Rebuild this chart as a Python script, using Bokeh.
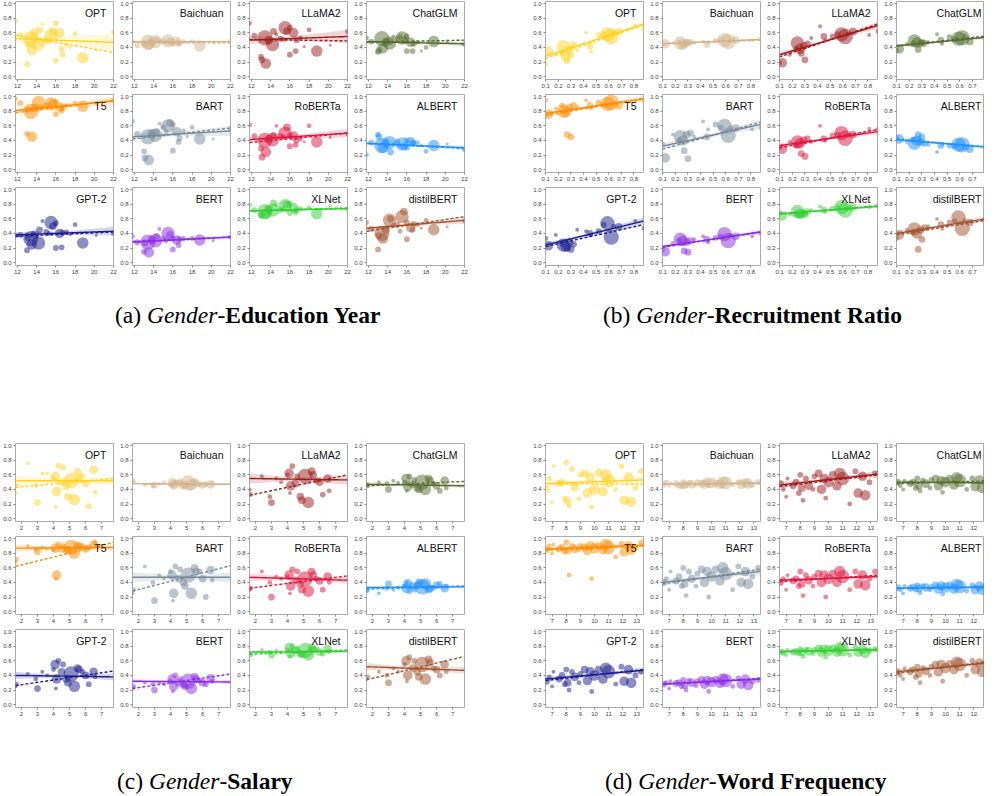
import numpy as np
from bokeh.plotting import figure
from bokeh.layouts import row, column
from bokeh.models import Div, Spacer, Range1d, FixedTicker, NumeralTickFormatter
from bokeh.embed import file_html
from bokeh.resources import INLINE
from bokeh.core.properties import value

MODELS = ["OPT", "Baichuan", "LLaMA2", "ChatGLM", "T5", "BART",
          "RoBERTa", "ALBERT", "GPT-2", "BERT", "XLNet", "distilBERT"]
COLORS = ["#FFD21F", "#D2B48C", "#9E1B1B", "#556B2F", "#FF8C00", "#778899",
          "#DC143C", "#1E90FF", "#1C1C8C", "#8A2BE2", "#32CD32", "#A0522D"]
Y_TICKS = [0.0, 0.2, 0.4, 0.6, 0.8, 1.0]

# ---------------- (a) Gender - Education Year ----------------
A_TICKS = [12, 14, 16, 18, 20, 22]
A_X = [11.8, 12.3, 13.0, 13.1, 13.4, 13.5, 13.8, 14.2, 14.3, 14.6, 15.0, 15.3, 15.5,
       15.7, 16.0, 16.0, 16.4, 16.6, 16.7, 17.1, 17.5, 18.0, 18.8, 20.2, 22.0]
A_W = [3, 4, 4, 5, 14, 9, 7, 12, 5, 2, 4, 3, 12, 6, 4, 4, 8, 4, 4, 3, 1, 3, 10, 1, 3]
A_OPT = [0.77, 0.57, 0.17, 0.44, 0.52, 0.36, 0.60, 0.45, 0.64, 0.72, 0.50, 0.48, 0.57,
         0.62, 0.73, 0.22, 0.60, 0.38, 0.30, 0.43, 0.40, 0.59, 0.26, 0.36, 0.61]
A_BAICHUAN = [0.49, 0.43, 0.46, 0.44, 0.47, 0.44, 0.47, 0.48, 0.50, 0.49, 0.48, 0.47, 0.49,
              0.48, 0.47, 0.45, 0.48, 0.47, 0.45, 0.48, 0.47, 0.48, 0.42, 0.47, 0.49]
A_LLAMA2 = [0.73, 0.56, 0.27, 0.23, 0.53, 0.18, 0.50, 0.44, 0.62, 0.58, 0.52, 0.51, 0.67,
            0.62, 0.67, 0.30, 0.60, 0.35, 0.50, 0.53, 0.41, 0.64, 0.35, 0.43, 0.62]
A_CHATGLM = [0.53, 0.48, 0.34, 0.36, 0.52, 0.39, 0.47, 0.46, 0.48, 0.55, 0.52, 0.55, 0.53,
             0.50, 0.55, 0.35, 0.47, 0.35, 0.45, 0.47, 0.35, 0.40, 0.48, 0.47, 0.44]
A_T5 = [0.97, 0.91, 0.49, 0.82, 0.80, 0.45, 0.85, 0.92, 0.85, 0.86, 0.88, 0.89, 0.90,
        0.92, 0.93, 0.76, 0.86, 0.81, 0.84, 0.88, 0.87, 0.91, 0.87, 0.90, 0.95]
A_BART = [0.66, 0.49, 0.25, 0.16, 0.45, 0.13, 0.50, 0.47, 0.52, 0.63, 0.58, 0.52, 0.60,
          0.64, 0.62, 0.26, 0.52, 0.38, 0.43, 0.53, 0.45, 0.58, 0.42, 0.42, 0.56]
A_ROBERTA = [0.61, 0.46, 0.29, 0.17, 0.40, 0.24, 0.42, 0.41, 0.47, 0.60, 0.46, 0.45, 0.50,
             0.58, 0.47, 0.32, 0.46, 0.34, 0.40, 0.42, 0.38, 0.60, 0.38, 0.44, 0.49]
A_ALBERT = [0.20, 0.37, 0.48, 0.45, 0.33, 0.30, 0.37, 0.37, 0.24, 0.35, 0.38, 0.33, 0.35,
            0.32, 0.40, 0.30, 0.38, 0.37, 0.36, 0.37, 0.33, 0.25, 0.33, 0.35, 0.27]
A_GPT2 = [0.37, 0.38, 0.17, 0.34, 0.33, 0.25, 0.38, 0.27, 0.45, 0.57, 0.42, 0.40, 0.55,
          0.50, 0.54, 0.20, 0.40, 0.21, 0.41, 0.42, 0.38, 0.52, 0.27, 0.37, 0.40]
A_BERT = [0.36, 0.28, 0.15, 0.27, 0.28, 0.14, 0.31, 0.30, 0.36, 0.46, 0.33, 0.30, 0.40,
          0.38, 0.33, 0.18, 0.31, 0.24, 0.32, 0.33, 0.32, 0.33, 0.31, 0.30, 0.35]
A_XLNET = [0.79, 0.72, 0.64, 0.66, 0.70, 0.67, 0.73, 0.72, 0.82, 0.79, 0.72, 0.74, 0.78,
           0.80, 0.81, 0.68, 0.75, 0.69, 0.72, 0.74, 0.73, 0.75, 0.67, 0.78, 0.73]
A_DISTIL = [0.55, 0.46, 0.18, 0.37, 0.40, 0.33, 0.45, 0.58, 0.60, 0.52, 0.52, 0.43, 0.63,
            0.70, 0.55, 0.32, 0.48, 0.45, 0.53, 0.52, 0.47, 0.58, 0.45, 0.49, 0.57]
A_SOLID_L = [0.52, 0.48, 0.50, 0.48, 0.81, 0.45, 0.41, 0.36, 0.38, 0.28, 0.71, 0.47]
A_SOLID_R = [0.47, 0.48, 0.55, 0.45, 0.94, 0.53, 0.50, 0.30, 0.43, 0.35, 0.74, 0.58]
A_DASH_L = [0.57, 0.47, 0.51, 0.47, 0.78, 0.42, 0.37, 0.36, 0.36, 0.29, 0.71, 0.43]
A_DASH_R = [0.33, 0.46, 0.49, 0.50, 0.95, 0.57, 0.50, 0.29, 0.42, 0.35, 0.75, 0.63]
A_BAND = [0.12, 0.02, 0.09, 0.03, 0.06, 0.07, 0.06, 0.03, 0.06, 0.03, 0.02, 0.05]

# ---------------- (b) Gender - Recruitment Ratio ----------------
B_TICKS = [0.1, 0.2, 0.3, 0.4, 0.5, 0.6, 0.7, 0.8]
B_X = [0.10, 0.12, 0.18, 0.23, 0.24, 0.26, 0.27, 0.29, 0.30, 0.32, 0.35,
       0.42, 0.45, 0.46, 0.52, 0.56, 0.59, 0.62, 0.64, 0.68, 0.81, 0.88]
B_W = [3, 8, 2, 4, 12, 9, 5, 6, 5, 5, 2, 2, 5, 2, 4, 4, 13, 14, 3, 6, 2, 3]
B_OPT = [0.17, 0.35, 0.30, 0.32, 0.41, 0.28, 0.22, 0.38, 0.30, 0.44, 0.36,
         0.60, 0.42, 0.34, 0.57, 0.58, 0.58, 0.55, 0.61, 0.62, 0.70, 0.65]
B_BAICHUAN = [0.45, 0.45, 0.46, 0.47, 0.46, 0.44, 0.44, 0.46, 0.47, 0.47, 0.46,
              0.48, 0.44, 0.47, 0.49, 0.50, 0.50, 0.48, 0.49, 0.50, 0.50, 0.51]
B_LLAMA2 = [0.19, 0.19, 0.30, 0.38, 0.46, 0.38, 0.32, 0.42, 0.23, 0.45, 0.53,
            0.69, 0.55, 0.50, 0.55, 0.58, 0.58, 0.55, 0.58, 0.62, 0.57, 0.62]
B_CHATGLM = [0.36, 0.38, 0.45, 0.46, 0.49, 0.47, 0.37, 0.45, 0.47, 0.46, 0.47,
             0.58, 0.50, 0.45, 0.54, 0.51, 0.52, 0.53, 0.55, 0.48, 0.46, 0.50]
B_T5 = [0.95, 0.76, 0.84, 0.88, 0.80, 0.79, 0.48, 0.85, 0.45, 0.88, 0.86,
        0.95, 0.88, 0.84, 0.92, 0.89, 0.90, 0.92, 0.91, 0.88, 0.93, 0.95]
B_BART = [0.35, 0.16, 0.48, 0.40, 0.45, 0.40, 0.26, 0.48, 0.15, 0.50, 0.45,
          0.66, 0.45, 0.55, 0.62, 0.58, 0.60, 0.47, 0.58, 0.57, 0.55, 0.57]
B_ROBERTA = [0.30, 0.28, 0.38, 0.33, 0.38, 0.36, 0.22, 0.40, 0.18, 0.42, 0.38,
             0.60, 0.42, 0.40, 0.47, 0.48, 0.50, 0.43, 0.47, 0.48, 0.56, 0.55]
B_ALBERT = [0.44, 0.42, 0.38, 0.41, 0.36, 0.40, 0.48, 0.38, 0.45, 0.36, 0.34,
            0.24, 0.33, 0.35, 0.33, 0.32, 0.34, 0.34, 0.30, 0.28, 0.27, 0.26]
B_GPT2 = [0.33, 0.23, 0.38, 0.26, 0.24, 0.22, 0.20, 0.28, 0.18, 0.25, 0.45,
          0.43, 0.40, 0.38, 0.43, 0.52, 0.54, 0.35, 0.50, 0.49, 0.57, 0.47]
B_BERT = [0.18, 0.15, 0.27, 0.30, 0.32, 0.30, 0.16, 0.28, 0.14, 0.30, 0.32,
          0.36, 0.32, 0.28, 0.34, 0.36, 0.39, 0.30, 0.37, 0.36, 0.36, 0.40]
B_XLNET = [0.68, 0.64, 0.66, 0.67, 0.70, 0.67, 0.65, 0.68, 0.66, 0.70, 0.72,
           0.77, 0.72, 0.70, 0.74, 0.75, 0.76, 0.72, 0.74, 0.76, 0.76, 0.78]
B_DISTIL = [0.33, 0.38, 0.45, 0.42, 0.46, 0.40, 0.18, 0.45, 0.32, 0.48, 0.50,
            0.60, 0.52, 0.46, 0.55, 0.57, 0.62, 0.47, 0.58, 0.55, 0.62, 0.63]
B_SOLID_L = [0.28, 0.45, 0.30, 0.42, 0.77, 0.32, 0.33, 0.41, 0.24, 0.22, 0.67, 0.40]
B_SOLID_R = [0.72, 0.51, 0.70, 0.55, 0.97, 0.62, 0.52, 0.30, 0.57, 0.42, 0.77, 0.62]
B_DASH_L = [0.25, 0.45, 0.27, 0.42, 0.74, 0.28, 0.30, 0.42, 0.22, 0.21, 0.66, 0.38]
B_DASH_R = [0.71, 0.50, 0.72, 0.57, 0.98, 0.65, 0.55, 0.30, 0.52, 0.42, 0.78, 0.60]
B_BAND = [0.04, 0.015, 0.05, 0.03, 0.04, 0.06, 0.04, 0.03, 0.05, 0.03, 0.02, 0.04]

# ---------------- (c) Gender - Salary ----------------
C_TICKS = [2, 3, 4, 5, 6, 7]
C_X = [1.65, 1.7, 2.4, 2.9, 3.0, 3.3, 3.6, 4.0, 4.1, 4.15, 4.2, 4.3, 4.5,
       4.6, 4.8, 4.9, 5.1, 5.3, 5.5, 5.6, 5.8, 6.0, 6.2, 6.5, 6.6]
C_W = [2, 3, 2, 3, 5, 2, 2, 3, 8, 2, 8, 4, 6, 4, 6, 6, 14, 10, 6, 6, 4, 6, 4, 7, 3]
C_OPT = [0.35, 0.45, 0.76, 0.45, 0.22, 0.62, 0.62, 0.55, 0.58, 0.16, 0.37, 0.73, 0.50,
         0.70, 0.44, 0.30, 0.52, 0.26, 0.64, 0.55, 0.59, 0.48, 0.17, 0.67, 0.36]
C_BAICHUAN = [0.50, 0.52, 0.46, 0.45, 0.46, 0.48, 0.50, 0.47, 0.49, 0.44, 0.46, 0.50, 0.48,
              0.51, 0.45, 0.47, 0.49, 0.46, 0.50, 0.48, 0.47, 0.46, 0.47, 0.47, 0.48]
C_LLAMA2 = [0.40, 0.33, 0.58, 0.30, 0.22, 0.55, 0.50, 0.60, 0.62, 0.35, 0.45, 0.72, 0.48,
            0.58, 0.30, 0.25, 0.58, 0.22, 0.65, 0.60, 0.52, 0.50, 0.33, 0.55, 0.38]
C_CHATGLM = [0.47, 0.45, 0.50, 0.48, 0.40, 0.52, 0.49, 0.50, 0.55, 0.38, 0.44, 0.58, 0.47,
             0.53, 0.42, 0.40, 0.50, 0.40, 0.55, 0.52, 0.48, 0.45, 0.38, 0.52, 0.42]
C_T5 = [0.68, 0.72, 0.90, 0.85, 0.82, 0.88, 0.86, 0.85, 0.87, 0.45, 0.50, 0.92, 0.86,
        0.90, 0.84, 0.85, 0.88, 0.80, 0.91, 0.89, 0.90, 0.86, 0.88, 0.92, 0.95]
C_BART = [0.25, 0.30, 0.62, 0.40, 0.15, 0.50, 0.45, 0.55, 0.50, 0.15, 0.25, 0.62, 0.45,
          0.58, 0.40, 0.35, 0.50, 0.25, 0.60, 0.55, 0.55, 0.45, 0.20, 0.57, 0.43]
C_ROBERTA = [0.30, 0.32, 0.55, 0.40, 0.20, 0.48, 0.45, 0.48, 0.50, 0.25, 0.35, 0.58, 0.43,
             0.55, 0.38, 0.30, 0.45, 0.28, 0.55, 0.50, 0.45, 0.42, 0.30, 0.48, 0.40]
C_ALBERT = [0.28, 0.30, 0.25, 0.32, 0.38, 0.30, 0.33, 0.35, 0.32, 0.40, 0.38, 0.28, 0.35,
            0.30, 0.36, 0.40, 0.34, 0.38, 0.30, 0.32, 0.33, 0.36, 0.38, 0.32, 0.35]
C_GPT2 = [0.25, 0.28, 0.42, 0.35, 0.22, 0.45, 0.40, 0.48, 0.55, 0.22, 0.35, 0.60, 0.45,
          0.55, 0.35, 0.30, 0.42, 0.25, 0.50, 0.48, 0.45, 0.40, 0.28, 0.45, 0.38]
C_BERT = [0.22, 0.25, 0.30, 0.28, 0.20, 0.30, 0.28, 0.32, 0.35, 0.18, 0.25, 0.40, 0.30,
          0.35, 0.28, 0.25, 0.32, 0.22, 0.38, 0.35, 0.33, 0.30, 0.28, 0.36, 0.32]
C_XLNET = [0.70, 0.68, 0.75, 0.72, 0.68, 0.74, 0.72, 0.75, 0.78, 0.66, 0.70, 0.80, 0.74,
           0.77, 0.70, 0.69, 0.74, 0.68, 0.78, 0.75, 0.76, 0.72, 0.70, 0.76, 0.73]
C_DISTIL = [0.35, 0.38, 0.45, 0.40, 0.30, 0.50, 0.45, 0.55, 0.60, 0.32, 0.40, 0.65, 0.50,
            0.60, 0.45, 0.38, 0.55, 0.35, 0.62, 0.58, 0.50, 0.48, 0.40, 0.55, 0.45]
C_SOLID_L = [0.52, 0.48, 0.55, 0.47, 0.87, 0.47, 0.47, 0.33, 0.40, 0.32, 0.72, 0.52]
C_SOLID_R = [0.52, 0.47, 0.53, 0.45, 0.88, 0.47, 0.43, 0.34, 0.38, 0.31, 0.73, 0.47]
C_DASH_L = [0.43, 0.48, 0.32, 0.45, 0.62, 0.28, 0.32, 0.31, 0.26, 0.22, 0.69, 0.34]
C_DASH_R = [0.55, 0.47, 0.60, 0.51, 0.95, 0.63, 0.49, 0.35, 0.46, 0.42, 0.75, 0.66]
C_BAND = [0.07, 0.015, 0.07, 0.03, 0.05, 0.07, 0.05, 0.02, 0.05, 0.03, 0.02, 0.05]

# ---------------- (d) Gender - Word Frequency ----------------
D_TICKS = [7, 8, 9, 10, 11, 12, 13]
D_X = [6.6, 6.8, 7.0, 7.1, 7.5, 7.7, 7.9, 8.0, 8.1, 8.2, 8.4, 8.6, 8.9, 9.0, 9.3,
       9.5, 9.7, 9.8, 10.0, 10.3, 10.6, 10.8, 11.0, 11.5, 11.9, 12.1, 12.4, 12.6, 12.9, 13.3]
D_W = [5, 3, 2, 2, 5, 5, 4, 4, 6, 3, 4, 7, 3, 4, 6,
       8, 8, 3, 9, 6, 8, 10, 12, 3, 4, 8, 8, 9, 4, 4]
D_OPT = [0.40, 0.55, 0.22, 0.72, 0.48, 0.50, 0.27, 0.77, 0.24, 0.17, 0.68, 0.43, 0.27, 0.60, 0.62,
         0.35, 0.57, 0.16, 0.40, 0.63, 0.37, 0.60, 0.52, 0.40, 0.72, 0.25, 0.57, 0.23, 0.42, 0.65]
D_BAICHUAN = [0.47, 0.50, 0.45, 0.49, 0.48, 0.46, 0.44, 0.50, 0.46, 0.45, 0.49, 0.47, 0.46, 0.50, 0.48,
              0.47, 0.50, 0.45, 0.49, 0.48, 0.47, 0.50, 0.49, 0.46, 0.50, 0.47, 0.49, 0.48, 0.46, 0.50]
D_LLAMA2 = [0.48, 0.40, 0.30, 0.55, 0.45, 0.50, 0.35, 0.60, 0.42, 0.25, 0.55, 0.45, 0.40, 0.58, 0.62,
            0.40, 0.55, 0.28, 0.50, 0.60, 0.45, 0.62, 0.55, 0.20, 0.65, 0.35, 0.58, 0.32, 0.50, 0.62]
D_CHATGLM = [0.50, 0.45, 0.40, 0.52, 0.48, 0.50, 0.42, 0.55, 0.45, 0.38, 0.52, 0.48, 0.42, 0.53, 0.55,
             0.45, 0.52, 0.36, 0.50, 0.55, 0.46, 0.56, 0.52, 0.40, 0.55, 0.44, 0.53, 0.42, 0.48, 0.50]
D_T5 = [0.85, 0.90, 0.80, 0.92, 0.86, 0.88, 0.82, 0.95, 0.84, 0.50, 0.90, 0.86, 0.85, 0.90, 0.88,
        0.84, 0.90, 0.45, 0.87, 0.90, 0.85, 0.92, 0.88, 0.75, 0.93, 0.82, 0.90, 0.85, 0.88, 0.95]
D_BART = [0.40, 0.45, 0.30, 0.55, 0.42, 0.48, 0.35, 0.60, 0.38, 0.22, 0.55, 0.45, 0.35, 0.52, 0.58,
          0.40, 0.55, 0.20, 0.48, 0.58, 0.42, 0.60, 0.52, 0.30, 0.62, 0.40, 0.55, 0.38, 0.48, 0.60]
D_ROBERTA = [0.40, 0.45, 0.30, 0.50, 0.42, 0.45, 0.35, 0.55, 0.38, 0.22, 0.50, 0.43, 0.35, 0.48, 0.52,
             0.40, 0.50, 0.20, 0.45, 0.52, 0.40, 0.55, 0.48, 0.30, 0.55, 0.38, 0.50, 0.36, 0.45, 0.55]
D_ALBERT = [0.33, 0.30, 0.25, 0.35, 0.32, 0.34, 0.30, 0.36, 0.32, 0.26, 0.35, 0.33, 0.30, 0.34, 0.36,
            0.31, 0.35, 0.24, 0.33, 0.36, 0.31, 0.37, 0.34, 0.28, 0.36, 0.30, 0.35, 0.30, 0.33, 0.32]
D_GPT2 = [0.32, 0.38, 0.25, 0.45, 0.35, 0.40, 0.28, 0.48, 0.30, 0.20, 0.45, 0.38, 0.30, 0.42, 0.48,
          0.33, 0.45, 0.18, 0.40, 0.48, 0.35, 0.50, 0.45, 0.28, 0.52, 0.32, 0.48, 0.30, 0.40, 0.45]
D_BERT = [0.28, 0.30, 0.22, 0.32, 0.29, 0.30, 0.25, 0.34, 0.27, 0.20, 0.33, 0.30, 0.26, 0.32, 0.34,
          0.28, 0.33, 0.18, 0.31, 0.34, 0.29, 0.35, 0.33, 0.25, 0.36, 0.28, 0.35, 0.27, 0.32, 0.34]
D_XLNET = [0.72, 0.70, 0.68, 0.75, 0.72, 0.73, 0.70, 0.76, 0.72, 0.66, 0.75, 0.73, 0.70, 0.75, 0.77,
           0.72, 0.76, 0.65, 0.74, 0.77, 0.72, 0.78, 0.75, 0.68, 0.78, 0.72, 0.76, 0.71, 0.74, 0.76]
D_DISTIL = [0.45, 0.40, 0.35, 0.50, 0.45, 0.48, 0.38, 0.52, 0.42, 0.30, 0.50, 0.46, 0.40, 0.52, 0.55,
            0.45, 0.55, 0.32, 0.50, 0.56, 0.48, 0.58, 0.55, 0.40, 0.60, 0.48, 0.57, 0.45, 0.52, 0.60]
D_SOLID_L = [0.48, 0.47, 0.46, 0.50, 0.86, 0.40, 0.43, 0.32, 0.35, 0.28, 0.73, 0.45]
D_SOLID_R = [0.53, 0.49, 0.61, 0.49, 0.91, 0.55, 0.48, 0.34, 0.47, 0.35, 0.75, 0.58]
D_DASH_L = [0.48, 0.47, 0.44, 0.48, 0.84, 0.38, 0.41, 0.32, 0.33, 0.28, 0.72, 0.43]
D_DASH_R = [0.47, 0.48, 0.60, 0.52, 0.90, 0.58, 0.50, 0.33, 0.48, 0.36, 0.76, 0.60]
D_BAND = [0.06, 0.015, 0.05, 0.03, 0.03, 0.05, 0.03, 0.02, 0.04, 0.02, 0.02, 0.04]

PANELS = {
    "a": dict(x=A_X, w=A_W, xr=(11.8, 22.0), ticks=A_TICKS, fmt="0",
              ys=[A_OPT, A_BAICHUAN, A_LLAMA2, A_CHATGLM, A_T5, A_BART,
                  A_ROBERTA, A_ALBERT, A_GPT2, A_BERT, A_XLNET, A_DISTIL],
              sl=A_SOLID_L, sr=A_SOLID_R, dl=A_DASH_L, dr=A_DASH_R, band=A_BAND),
    "b": dict(x=B_X, w=B_W, xr=(0.098, 0.876), ticks=B_TICKS, fmt="0.0",
              ys=[B_OPT, B_BAICHUAN, B_LLAMA2, B_CHATGLM, B_T5, B_BART,
                  B_ROBERTA, B_ALBERT, B_GPT2, B_BERT, B_XLNET, B_DISTIL],
              sl=B_SOLID_L, sr=B_SOLID_R, dl=B_DASH_L, dr=B_DASH_R, band=B_BAND),
    "c": dict(x=C_X, w=C_W, xr=(1.63, 7.74), ticks=C_TICKS, fmt="0",
              ys=[C_OPT, C_BAICHUAN, C_LLAMA2, C_CHATGLM, C_T5, C_BART,
                  C_ROBERTA, C_ALBERT, C_GPT2, C_BERT, C_XLNET, C_DISTIL],
              sl=C_SOLID_L, sr=C_SOLID_R, dl=C_DASH_L, dr=C_DASH_R, band=C_BAND),
    "d": dict(x=D_X, w=D_W, xr=(6.53, 13.47), ticks=D_TICKS, fmt="0",
              ys=[D_OPT, D_BAICHUAN, D_LLAMA2, D_CHATGLM, D_T5, D_BART,
                  D_ROBERTA, D_ALBERT, D_GPT2, D_BERT, D_XLNET, D_DISTIL],
              sl=D_SOLID_L, sr=D_SOLID_R, dl=D_DASH_L, dr=D_DASH_R, band=D_BAND),
}

FIG_W, FIG_H = 117, 93
BL, BR, BT, BB = 15, 4, 1, 14
FULL_FRAME = FIG_W - BL - BR


def small(P, k, width=FIG_W, br=BR):
    x0, x1 = P["xr"]
    frame = width - BL - br
    x1v = x0 + (x1 - x0) * frame / FULL_FRAME
    p = figure(width=width, height=FIG_H, x_range=Range1d(x0, x1v),
               y_range=Range1d(-0.04, 1.03), output_backend="svg",
               toolbar_location=None, min_border_left=BL, min_border_right=br,
               min_border_top=BT, min_border_bottom=BB,
               background_fill_color="white", border_fill_color="white")
    p.outline_line_color = "#ababab"
    p.outline_line_width = 1
    p.xgrid.visible = False
    p.ygrid.visible = False
    p.xaxis.ticker = FixedTicker(ticks=P["ticks"])
    p.yaxis.ticker = FixedTicker(ticks=Y_TICKS)
    p.xaxis.formatter = NumeralTickFormatter(format=P["fmt"])
    p.yaxis.formatter = NumeralTickFormatter(format="0.0")
    for ax in (p.xaxis[0], p.yaxis[0]):
        ax.major_label_text_font_size = "6px"
        ax.major_label_text_font = "Liberation Sans"
        ax.major_label_text_color = "#444444"
        ax.major_tick_in = 0
        ax.major_tick_out = 2
        ax.major_tick_line_color = "#888888"
        ax.minor_tick_line_color = None
        ax.axis_line_color = None
        ax.major_label_standoff = 2

    X = np.array(P["x"], dtype=float)
    W = np.array(P["w"], dtype=float)
    Y = np.array(P["ys"][k], dtype=float)
    c = COLORS[k]
    xs = np.linspace(x0, x1, 60)
    t = (xs - x0) / (x1 - x0)
    solid = P["sl"][k] + (P["sr"][k] - P["sl"][k]) * t
    dash = P["dl"][k] + (P["dr"][k] - P["dl"][k]) * t
    xc = np.average(X, weights=W)
    dmax = max(abs(x0 - xc), abs(x1 - xc))
    h = P["band"][k] * np.sqrt(0.15 + 0.85 * ((xs - xc) / dmax) ** 2)

    p.varea(x=xs, y1=solid - h, y2=solid + h, fill_color=c, fill_alpha=0.18)
    p.scatter(X, Y, size=2 + W * 0.95, fill_color=c, fill_alpha=0.5, line_color=None)
    p.line(xs, solid, line_color=c, line_width=1.4)
    p.line(xs, dash, line_color=c, line_width=1.4, line_dash="3 2")
    p.text(x=[x1v], y=[1.03], text=[MODELS[k]], text_align="right",
           text_baseline="top", x_offset=-7 if width == FIG_W else -3, y_offset=5,
           text_font=value("Liberation Sans"), text_font_size="10.5px", text_color="#111111")
    return p


def panel_rows(left, right):
    rows = []
    for r in range(3):
        figs = [small(PANELS[left], r * 4 + c) for c in range(4)]
        figs_r = [small(PANELS[right], r * 4 + c) for c in range(3)]
        figs_r.append(small(PANELS[right], r * 4 + 3, width=984 - 468 - 62 - 351, br=0))
        rows.append(row(*figs, Spacer(width=62, height=FIG_H), *figs_r))
    return rows


CAP_STYLE = ("position:absolute;white-space:nowrap;font-family:'Liberation Serif',serif;"
             "font-size:23.5px;color:#000;")
cap1 = Div(width=984, height=153, text=(
    "<div style='position:relative;width:984px;height:153px;'>"
    f"<span style=\"{CAP_STYLE}left:110px;top:15px;\">(a) <i>Gender</i>-<b>Education Year</b></span>"
    f"<span style=\"{CAP_STYLE}left:598px;top:15px;\">(b) <i>Gender</i>-<b>Recruitment Ratio</b></span>"
    "</div>"))
cap2 = Div(width=984, height=66, text=(
    "<div style='position:relative;width:984px;height:66px;'>"
    f"<span style=\"{CAP_STYLE}left:112px;top:39px;\">(c) <i>Gender</i>-<b>Salary</b></span>"
    f"<span style=\"{CAP_STYLE}left:600px;top:39px;\">(d) <i>Gender</i>-<b>Word Frequency</b></span>"
    "</div>"))

layout = column(*panel_rows("a", "b"), cap1, *panel_rows("c", "d"), cap2)

open("out.html", "w").write(file_html(layout, INLINE))
